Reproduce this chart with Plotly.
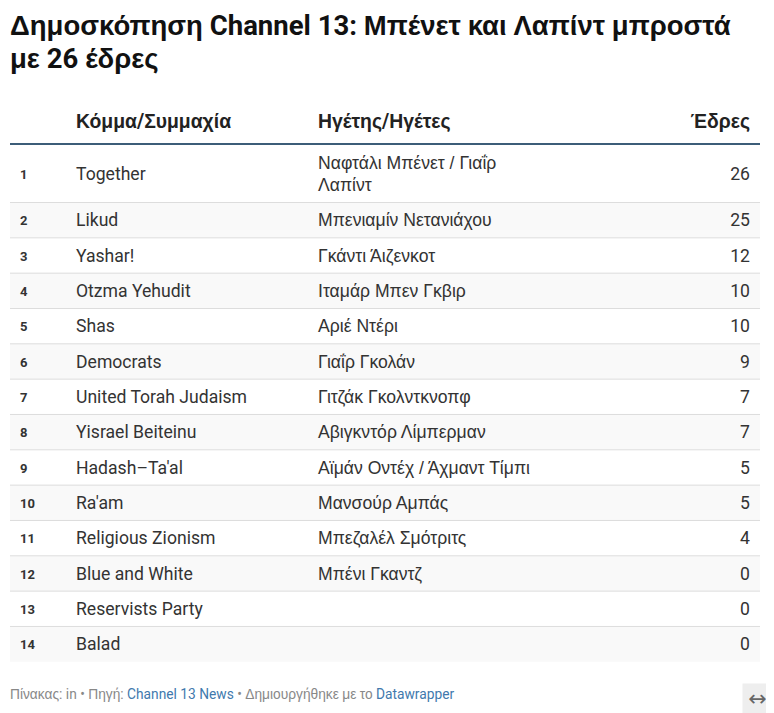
import re
import plotly.graph_objects as go

# ? Table content.
title_lines = ["Δημοσκόπηση Channel 13: Μπένετ και Λαπίντ μπροστά", "με 26 έδρες"]
headers = ["Κόμμα/Συμμαχία", "Ηγέτης/Ηγέτες", "Έδρες"]
ranks = [str(i) for i in range(1, 15)]
parties = ["Together", "Likud", "Yashar!", "Otzma Yehudit", "Shas", "Democrats",
           "United Torah Judaism", "Yisrael Beiteinu", "Hadash–Ta'al", "Ra'am",
           "Religious Zionism", "Blue and White", "Reservists Party", "Balad"]
leaders = ["Ναφτάλι Μπένετ / Γιαΐρ<br>Λαπίντ", "Μπενιαμίν Νετανιάχου", "Γκάντι Άιζενκοτ",
           "Ιταμάρ Μπεν Γκβιρ", "Αριέ Ντέρι", "Γιαΐρ Γκολάν", "Γιτζάκ Γκολντκνοπφ",
           "Αβιγκντόρ Λίμπερμαν", "Αϊμάν Οντέχ / Άχμαντ Τίμπι", "Μανσούρ Αμπάς",
           "Μπεζαλέλ Σμότριτς", "Μπένι Γκαντζ", "", ""]
seats = [26, 25, 12, 10, 10, 9, 7, 7, 5, 5, 4, 0, 0, 0]

# ? Layout constants (pixels). The page body has an 8px margin, so axes start at 8.
WIDTH, HEIGHT = 774, 713
BODY = 8
FONT = "Roboto"
GREEK_FONT = "Liberation Sans"
TEXT = "#333333"
BODY_SIZE = 17.6
HEADER_SIZE = 19.36
RULE_Y = 144
ROW_H = 35.33
WRAP_H = 57.5
TEXT_NUDGE = 1.8
LEFT, RIGHT = 10, 760
X_RANK, X_PARTY, X_LEADER, X_SEATS = 20, 76, 318, 750
HEADER_Y = 123.5

# ? The webfont has no Greek, so Greek runs fall back to an Arial-like face.
def mixed(text):
    return re.sub(r"[\u0370-\u03FF\u1F00-\u1FFF]+",
                  lambda m: f'<span style="font-family:{GREEK_FONT}">{m.group(0)}</span>', text)

# ? Row bands.
tops, centers, heights = [], [], []
y = RULE_Y + 1
for leader in leaders:
    h = WRAP_H if "<br>" in leader else ROW_H
    tops.append(y)
    heights.append(h)
    centers.append(y + h / 2)
    y += h
text_y = [c + TEXT_NUDGE for c in centers]

fig = go.Figure()

# ? Alternating row backgrounds, and separators.
shaded = [i for i in range(len(ranks)) if i % 2 == 1]
fig.add_trace(go.Bar(
    x=[RIGHT - LEFT] * len(shaded),
    base=[LEFT] * len(shaded),
    y=[centers[i] for i in shaded],
    width=[heights[i] for i in shaded],
    orientation="h",
    marker=dict(color="#f9f9f9", line=dict(width=0)),
))
sep_x, sep_y = [], []
for i in range(1, len(ranks)):
    sep_x += [LEFT, RIGHT, None]
    sep_y += [tops[i], tops[i], None]
fig.add_trace(go.Scatter(x=sep_x, y=sep_y, mode="lines", line=dict(color="#dddddd", width=1)))
fig.add_trace(go.Scatter(x=[LEFT, RIGHT], y=[RULE_Y, RULE_Y], mode="lines",
                         line=dict(color="#3c5d78", width=2)))

# ? Columns.
def column(x, values, position, size=BODY_SIZE, family=FONT, bold=False):
    labels = [f"<b>{v}</b>" if bold else str(v) for v in values]
    fig.add_trace(go.Scatter(
        x=[x] * len(values), y=text_y, mode="text", text=labels,
        textposition=position, textfont=dict(family=family, size=size, color=TEXT),
    ))

column(X_RANK, ranks, "middle right", size=13, bold=True)
column(X_PARTY, parties, "middle right")
column(X_LEADER, leaders, "middle right", family=GREEK_FONT)
column(X_SEATS, seats, "middle left")

# ? Header.
fig.add_trace(go.Scatter(
    x=[X_PARTY, X_LEADER], y=[HEADER_Y, HEADER_Y], mode="text",
    text=[f"<b>{mixed(h)}</b>" for h in headers[:2]],
    textposition="middle right", textfont=dict(family=FONT, size=HEADER_SIZE, color="#222222"),
))
fig.add_trace(go.Scatter(
    x=[X_SEATS], y=[HEADER_Y], mode="text", text=[f"<b>{mixed(headers[2])}</b>"],
    textposition="middle left", textfont=dict(family=FONT, size=HEADER_SIZE, color="#222222"),
))

# ? Title, footer and the resize button.
for line, line_y in zip(title_lines, [25, 58]):
    fig.add_annotation(x=LEFT - 2, y=line_y, xref="x", yref="y", xanchor="left", yanchor="middle",
                       text=f"<b>{mixed(line)}</b>", showarrow=False,
                       font=dict(family=FONT, size=27.5, color="#111111"))
link = '<span style="color:#4179ad">%s</span>'
fig.add_annotation(x=LEFT - 2, y=694, xref="x", yref="y", xanchor="left", yanchor="middle", showarrow=False,
                   text=mixed("Πίνακας") + ": in • " + mixed("Πηγή") + ": " + link % "Channel 13 News"
                        + " • " + mixed("Δημιουργήθηκε με το") + " " + link % "Datawrapper",
                   font=dict(family=FONT, size=13.75, color="#888888"))
fig.add_annotation(x=757.5, y=698.5, xref="x", yref="y", xanchor="center", yanchor="middle", showarrow=False,
                   text="↔", bgcolor="#eeeeee", width=27, height=27,
                   font=dict(family="DejaVu Sans", size=22, color="#666666"))

axis = dict(visible=False, fixedrange=True)
fig.update_layout(
    width=WIDTH - BODY, height=HEIGHT - BODY, margin=dict(l=0, r=0, t=0, b=0),
    paper_bgcolor="white", plot_bgcolor="white",
    showlegend=False, hovermode=False, barmode="overlay",
    xaxis=dict(range=[BODY, WIDTH], **axis),
    yaxis=dict(range=[HEIGHT, BODY], **axis),
)

fig.write_html("out.html", config={"displayModeBar": False})
